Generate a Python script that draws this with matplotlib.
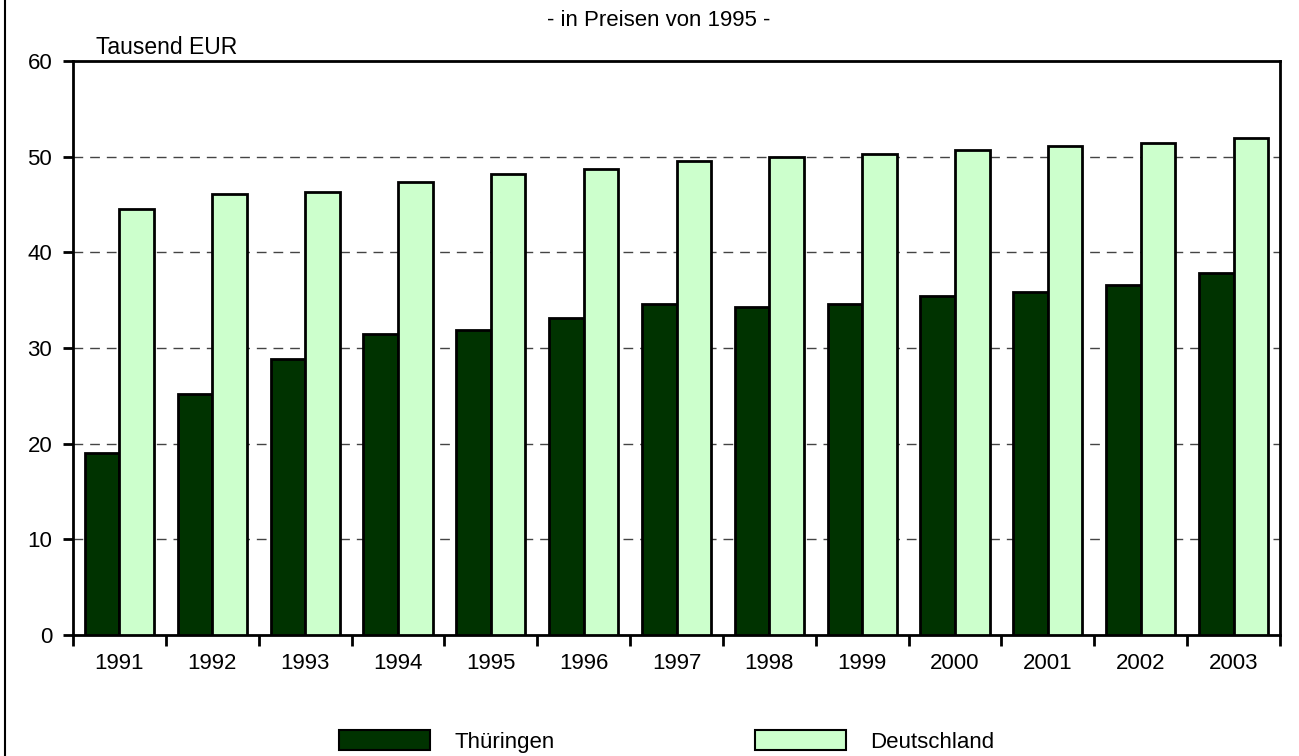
import numpy as np
import matplotlib
matplotlib.use("Agg")
from matplotlib import pyplot as plt
from matplotlib.patches import Patch
from matplotlib.lines import Line2D

years = ["1991", "1992", "1993", "1994", "1995", "1996", "1997",
         "1998", "1999", "2000", "2001", "2002", "2003"]
thueringen = [19.0, 25.2, 28.9, 31.5, 31.9, 33.1, 34.6, 34.3, 34.6, 35.4, 35.9, 36.6, 37.8]
deutschland = [44.5, 46.1, 46.3, 47.4, 48.2, 48.7, 49.5, 50.0, 50.3, 50.7, 51.1, 51.4, 51.9]

plt.rcParams['font.family'] = ['Liberation Sans', 'DejaVu Sans']
plt.rcParams['font.size'] = 16

W, H = 1299, 756
fig = plt.figure(figsize=(W / 100, H / 100), dpi=100)
ax = fig.add_axes([73 / W, 1 - 635 / H, (1280 - 73) / W, (635 - 61) / H])

x = np.arange(len(years))
bw = 0.372
ax.bar(x - bw / 2, thueringen, bw, color="#003300", edgecolor="black", linewidth=2.0, zorder=3)
ax.bar(x + bw / 2, deutschland, bw, color="#ccffcc", edgecolor="black", linewidth=2.0, zorder=3)

ax.set_xlim(-0.5, len(years) - 0.5)
ax.set_ylim(0, 60)
ax.set_yticks(range(0, 61, 10))
for v in range(10, 60, 10):
    ax.axhline(v, color="#444444", linewidth=1.0, linestyle=(0, (7, 5)), zorder=1)

# ticks between categories, labels centred
ax.set_xticks(np.arange(-0.5, len(years), 1.0))
ax.set_xticklabels([])
ax.set_xticks(x, minor=True)
ax.set_xticklabels(years, minor=True)
ax.tick_params(axis="x", which="major", direction="out", length=8, width=2.0)
ax.tick_params(axis="x", which="minor", length=0, pad=13)
ax.tick_params(axis="y", direction="out", length=7, width=2.0, pad=8)

for s in ax.spines.values():
    s.set_linewidth(2.0)

fig.text(96 / W, 1 - 47 / H, "Tausend EUR", ha="left", va="center", fontsize=16.5)
fig.text(659 / W, 1 - 20 / H, "- in Preisen von 1995 -", ha="center", va="center")

handles = [Patch(facecolor="#003300", edgecolor="black", linewidth=1.5, label="Thüringen"),
           Patch(facecolor="#ccffcc", edgecolor="black", linewidth=1.5, label="Deutschland")]
fig.legend(handles=handles, loc="lower left", bbox_to_anchor=(339 / W, 3 / H),
           ncol=2, frameon=False, borderpad=0, borderaxespad=0, fontsize=16,
           handlelength=4.1, handleheight=1.0, handletextpad=1.1, columnspacing=9.0)

fig.add_artist(Line2D([5.5 / W, 5.5 / W], [0, 1], color="black", linewidth=1.5))

fig.savefig("out.png", dpi=100)
